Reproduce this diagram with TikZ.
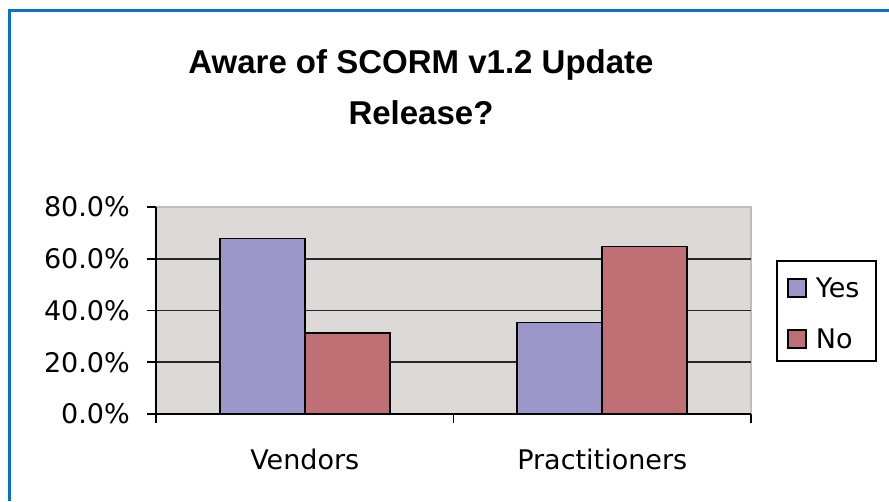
\documentclass[tikz,border=0pt]{standalone}
\usepackage{fontspec}
\setmainfont{DejaVu Sans}
\newfontfamily\titlefont{Liberation Sans}
\usetikzlibrary{positioning}
\definecolor{FrameBlue}{HTML}{0A72C2}
\definecolor{PlotBack}{HTML}{DDD9D6}
\definecolor{PlotEdge}{HTML}{BDBDBD}
\definecolor{BarYes}{HTML}{9C97C9}
\definecolor{BarNo}{HTML}{BF7074}
\tikzset{bar/.style={draw=black,line width=1.6pt},gridline/.style={black!85,line width=1.6pt},
 axisline/.style={black,line width=1.6pt},axislab/.style={font=\fontsize{27}{27}\selectfont,inner sep=0pt},
 titlelab/.style={font=\titlefont\bfseries\fontsize{33}{33}\selectfont,inner sep=0pt,anchor=base},
 keybox/.style={draw=black,line width=1.5pt,minimum size=18pt,inner sep=0pt}}

\begin{document}
\begin{tikzpicture}[x=1pt,y=-1pt]
\useasboundingbox (0,0) rectangle (889,501);
\draw[FrameBlue,line width=3pt] (9.5,501)--(9.5,10)--(889,10);
\node[titlelab] (titleA) at (421,73) {Aware of SCORM v1.2 Update};
\node[titlelab] (titleB) at (421,124) {Release?};
\begin{scope}[shift={(156,414)},x=1pt,y=2.5875pt]
\fill[PlotBack] (0,0) rectangle (595,80);
\draw[PlotEdge,line width=1.6pt] (0,80)--(595,80)--(595,0);
\foreach \v in {20,40,60}
 {\draw[gridline] (0,\v)--(595,\v);}
\foreach \c/\yes/\no in {0/67.9/31.4,297.5/35.3/64.7}
 {\draw[bar,fill=BarYes] (\c+63.75,0) rectangle (\c+148.75,\yes);
  \draw[bar,fill=BarNo] (\c+148.75,0) rectangle (\c+233.75,\no);}
\draw[axisline] (0,80)--(0,0)--(595,0);
\foreach \v in {0,20,...,80}
 {\draw[axisline] (0,\v)--++(-9pt,0pt);
  \node[axislab,anchor=east] (ylab\v) at ([xshift=-26pt]0,\v) {\v.0\%};}
\foreach \c in {0,297.5,595}
 {\draw[axisline] (\c,0)--++(0pt,-9pt);}
\node[axislab,anchor=base] (vendors) at ([yshift=-55pt]148.75,0) {Vendors};
\node[axislab,anchor=base] (practitioners) at ([yshift=-55pt]446.25,0) {Practitioners};
\end{scope}
\node[draw=black,line width=1.5pt,fill=white,minimum width=99pt,minimum height=100pt] (legend) at (826.5,311) {};
\node[keybox,fill=BarYes] (keyyes) at (797,288) {};
\node[axislab,right=9pt of keyyes] (yes) {Yes};
\node[keybox,fill=BarNo] (keyno) at (797,339) {};
\node[axislab,right=9pt of keyno] (no) {No};
\end{tikzpicture}
\end{document}
